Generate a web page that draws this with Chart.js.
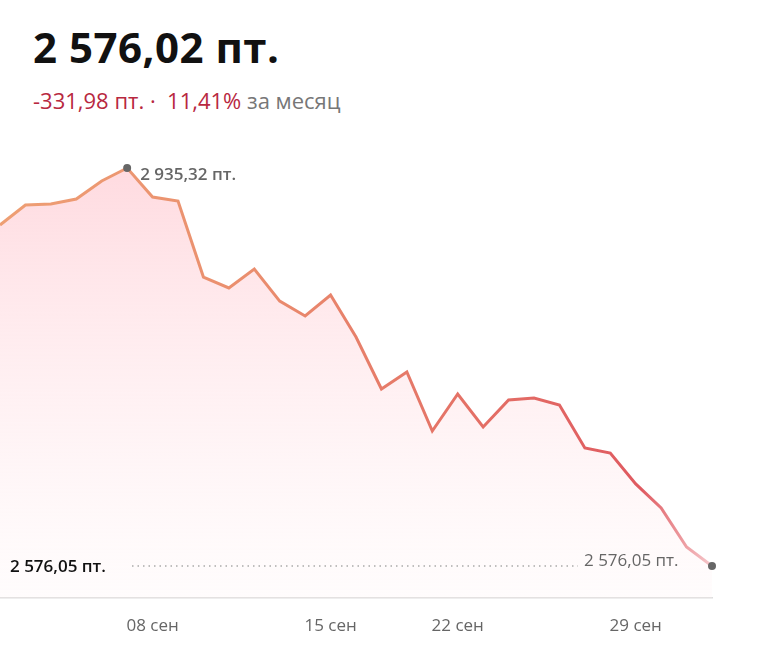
<!DOCTYPE html>
<html>
<head>
<meta charset="utf-8">
<script src="https://cdn.jsdelivr.net/npm/chart.js@4"></script>
<style>
  body { margin: 0; width: 758px; height: 657px; background: #fff; font-family: "Open Sans", "Noto Sans", sans-serif; overflow: hidden; position: relative; }
  #title { position: absolute; left: 33px; top: 18px; font-size: 42px; font-weight: bold; color: #111; letter-spacing: 0.5px; }
  #sub { position: absolute; left: 33px; top: 85px; font-size: 22px; }
  #sub .neg { color: #b8283f; }
  #sub .per { color: #777; }
  #wrap { position: absolute; left: 0; top: 130px; width: 758px; height: 527px; }
</style>
</head>
<body>
<div id="title">2 576,02 пт.</div>
<div id="sub"><span class="neg">-331,98 пт. ·&nbsp; 11,41%</span> <span class="per">за месяц</span></div>
<div id="wrap"><canvas id="grafico"></canvas></div>
<script>
const datas = ['01 сен','02 сен','03 сен','04 сен','05 сен','06 сен',
    '08 сен','09 сен','10 сен','11 сен','12 сен','13 сен','14 сен',
    '15 сен','16 сен','17 сен','18 сен','19 сен',
    '22 сен','23 сен','24 сен','25 сен','26 сен','27 сен','28 сен',
    '29 сен','30 сен','01 окт','02 окт'];
const valores = [2883.9, 2901.9, 2902.8, 2907.3, 2923.6, 2935.32,
    2909.1, 2905.5, 2836.9, 2827.0, 2844.1, 2815.2, 2801.7,
    2820.7, 2782.7, 2735.8, 2751.2, 2697.9,
    2731.3, 2701.5, 2725.9, 2727.7, 2721.4, 2682.6, 2678.0,
    2650.1, 2628.4, 2593.2, 2576.05];
const ticksVisiveis = ['08 сен', '15 сен', '22 сен', '29 сен'];

const idxMax = valores.indexOf(Math.max(...valores));
const idxFim = valores.length - 1;

const anotacoes = {
    id: 'anotacoes',
    afterDatasetsDraw(chart) {
        const ctx = chart.ctx;
        const meta = chart.getDatasetMeta(0);
        const pMax = meta.data[idxMax];
        const pFim = meta.data[idxFim];
        ctx.save();
        ctx.textBaseline = 'middle';
        ctx.font = '600 17px "Open Sans", sans-serif';
        ctx.fillStyle = '#666';
        ctx.fillText('2 935,32 пт.', pMax.x + 13, pMax.y + 7);

        // linha pontilhada do último valor
        ctx.strokeStyle = '#aaa';
        ctx.lineWidth = 1.3;
        ctx.setLineDash([1.5, 4]);
        ctx.beginPath();
        ctx.moveTo(132, pFim.y);
        ctx.lineTo(578, pFim.y);
        ctx.stroke();
        ctx.setLineDash([]);

        ctx.fillStyle = '#111';
        ctx.fillText('2 576,05 пт.', 10, pFim.y + 1);
        ctx.fillStyle = '#666';
        ctx.font = '17px "Open Sans", sans-serif';
        ctx.fillText('2 576,05 пт.', 584, pFim.y - 5);
        ctx.restore();
    }
};

const ctx = document.getElementById('grafico').getContext('2d');

new Chart(ctx, {
    type: 'line',
    data: {
        labels: datas,
        datasets: [{
            data: valores,
            borderWidth: 3,
            tension: 0,
            fill: true,
            borderColor: function (c) {
                const a = c.chart.chartArea;
                if (!a) return '#e27a6a';
                const g = c.chart.ctx.createLinearGradient(a.left, 0, a.right, 0);
                g.addColorStop(0, '#ee9f74');
                g.addColorStop(0.35, '#ea8e6e');
                g.addColorStop(0.9, '#df5a60');
                g.addColorStop(1, '#f6c8cc');
                return g;
            },
            backgroundColor: function (c) {
                const a = c.chart.chartArea;
                if (!a) return 'rgba(255,210,215,0.5)';
                const g = c.chart.ctx.createLinearGradient(0, a.top, 0, a.bottom);
                g.addColorStop(0, 'rgba(255,200,208,0.75)');
                g.addColorStop(1, 'rgba(255,240,242,0.2)');
                return g;
            },
            pointRadius: c => (c.dataIndex === idxMax || c.dataIndex === idxFim) ? 4 : 0,
            pointBackgroundColor: '#666',
            pointBorderWidth: 0
        }]
    },
    options: {
        responsive: true,
        maintainAspectRatio: false,
        animation: false,
        layout: { autoPadding: false, padding: { left: 0, right: 46, top: 0, bottom: 0 } },
        scales: {
            x: {
                offset: false,
                grid: { display: false, drawTicks: false },
                border: { color: '#ddd', width: 1.5 },
                afterFit: s => { s.height = 59; s.paddingLeft = 0; s.paddingRight = 0; },
                ticks: {
                    autoSkip: false,
                    maxRotation: 0,
                    padding: 18,
                    color: '#666',
                    font: { family: 'Open Sans', size: 17 },
                    callback: function (v) {
                        const l = datas[v];
                        return ticksVisiveis.includes(l) ? l : '';
                    }
                }
            },
            y: { display: false, min: 2547.16, max: 2969.62 }
        },
        plugins: { legend: { display: false }, tooltip: { enabled: false } }
    },
    plugins: [anotacoes]
});
</script>
</body>
</html>
